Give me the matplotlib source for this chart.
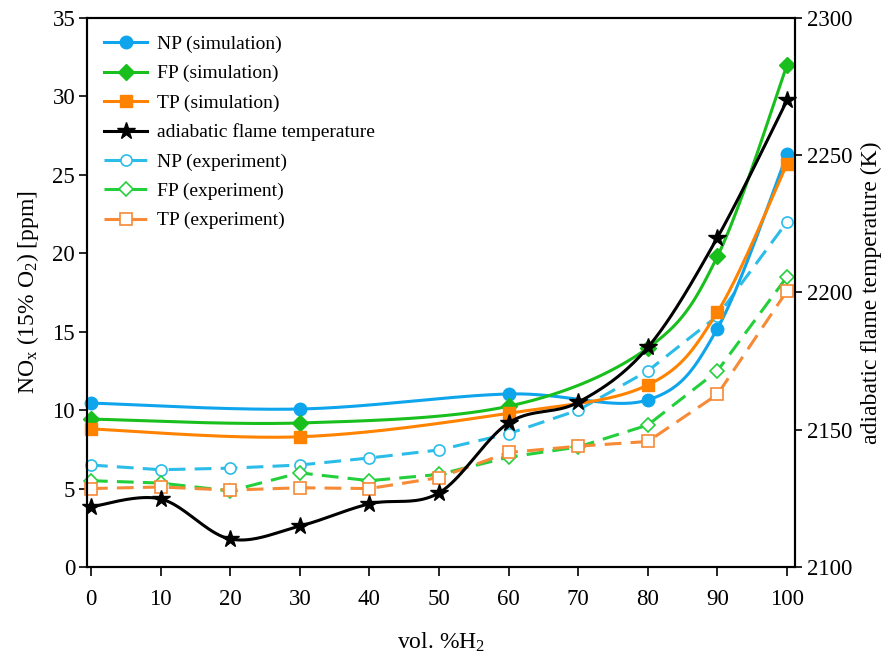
import numpy as np
import matplotlib.pyplot as plt

plt.rcParams['font.family'] = ['Liberation Serif', 'DejaVu Serif']
plt.rcParams['mathtext.fontset'] = 'custom'
plt.rcParams['mathtext.rm'] = 'Liberation Serif'
plt.rcParams['mathtext.it'] = 'Liberation Serif:italic'

# simulation points
x_sim = [0, 30, 60, 80, 90, 100]
np_sim = [10.45, 10.07, 11.03, 10.65, 15.2, 26.3]
fp_sim = [9.43, 9.18, 10.25, 13.96, 19.8, 32.0]
tp_sim = [8.8, 8.3, 9.8, 11.6, 16.25, 25.7]

# adiabatic flame temperature (K)
x_temp = [0, 10, 20, 30, 40, 50, 60, 70, 80, 90, 100]
temp = [2121.9, 2124.8, 2110.2, 2114.9, 2123.0, 2127.0, 2152.5, 2160.0, 2180.0, 2220.0, 2270.0]

# experiment points
x_exp = [0, 10, 20, 30, 40, 50, 60, 70, 80, 90, 100]
np_exp = [6.5, 6.2, 6.3, 6.5, 6.95, 7.46, 8.5, 10.0, 12.5, 16.0, 22.0]
fp_exp = [5.5, 5.35, 4.85, 6.0, 5.5, 5.9, 7.0, 7.65, 9.05, 12.5, 18.5]
tp_exp = [5.0, 5.1, 4.9, 5.05, 5.0, 5.7, 7.3, 7.7, 8.0, 11.0, 17.6]


def smooth(x, y, n=40):
    # catmull-rom style bezier through the points (like a "smoothed line")
    p = np.column_stack([x, y]).astype(float)
    p = np.vstack([p[0], p, p[-1]])
    t = np.linspace(0, 1, n)[:, None]
    out = []
    for i in range(1, len(p) - 2):
        p0, p1, p2, p3 = p[i - 1], p[i], p[i + 1], p[i + 2]
        c1 = p1 + (p2 - p0) / 6
        c2 = p2 - (p3 - p1) / 6
        seg = (1 - t)**3 * p1 + 3 * (1 - t)**2 * t * c1 + 3 * (1 - t) * t**2 * c2 + t**3 * p2
        out.append(seg)
    out = np.vstack(out)
    return out[:, 0], out[:, 1]


c_np = '#0ea5ec'
c_fp = '#19bf1c'
c_tp = '#ff8200'
c_np2 = '#2bbde8'
c_fp2 = '#24cf3c'
c_tp2 = '#f68a36'

fig = plt.figure(figsize=(8.82, 6.56), dpi=100)
ax = fig.add_axes([0.0986, 0.1357, 0.8028, 0.8369])
ax2 = ax.twinx()

lw = 2.2
dash = (0, (5.5, 3))
handles = []
for xv, yv, c, m, lab in [(x_sim, np_sim, c_np, 'o', 'NP (simulation)'),
                          (x_sim, fp_sim, c_fp, 'D', 'FP (simulation)'),
                          (x_sim, tp_sim, c_tp, 's', 'TP (simulation)')]:
    ms = 8 if m == 'D' else 9
    xs, ys = smooth(xv, yv)
    ax.plot(xs, ys, color=c, lw=lw, zorder=3)
    ax.plot(xv, yv, m, color=c, ms=ms, zorder=4, clip_on=False)
    h, = ax.plot([], [], color=c, lw=lw, marker=m, ms=ms, label=lab)
    handles.append(h)

xs, ys = smooth(x_temp, temp)
ax2.plot(xs, ys, color='black', lw=lw, zorder=3)
ax2.plot(x_temp, temp, '*', color='black', ms=13, zorder=4, clip_on=False)
h, = ax2.plot([], [], color='black', lw=lw, marker='*', ms=13, label='adiabatic flame temperature')
handles.append(h)

for yv, c, m, lab in [(np_exp, c_np2, 'o', 'NP (experiment)'),
                      (fp_exp, c_fp2, 'D', 'FP (experiment)'),
                      (tp_exp, c_tp2, 's', 'TP (experiment)')]:
    ms = 7 if m == 'D' else 8
    h, = ax.plot(x_exp, yv, color=c, lw=lw, ls=dash, marker=m, ms=ms,
                 mfc='white', mec=c, mew=1.2, label=lab, zorder=2, clip_on=False)
    handles.append(h)

ax.set_xlim(-0.57, 101.15)
ax.set_ylim(0, 35)
ax2.set_ylim(2100, 2300)
ax.set_xticks(range(0, 101, 10))
ax.set_yticks(range(0, 36, 5))
ax2.set_yticks(range(2100, 2301, 50))
ax.tick_params(axis='x', direction='out', length=6.5, width=1.2, pad=9, labelsize=16.5)
ax.tick_params(axis='y', direction='out', length=5.5, width=1.2, pad=3, labelsize=16.5)
ax2.tick_params(axis='y', direction='out', length=5, width=1.2, pad=3.5, labelsize=16.5)
for a in (ax, ax2):
    for s in a.spines.values():
        s.set_linewidth(1.5)

ax.set_xlabel(r'vol. %H$_2$', fontsize=17, labelpad=15)
ax.set_ylabel(r'NO$_\mathrm{x}$ (15% O$_2$) [ppm]', fontsize=17, labelpad=8)
ax2.set_ylabel('adiabatic flame temperature (K)', fontsize=17, labelpad=6)

ax2.legend(handles=handles, loc='upper left', frameon=False, fontsize=14,
           handlelength=2.2, borderaxespad=0.5, labelspacing=0.6, handletextpad=0.5)

fig.savefig('out.png', dpi=100)
